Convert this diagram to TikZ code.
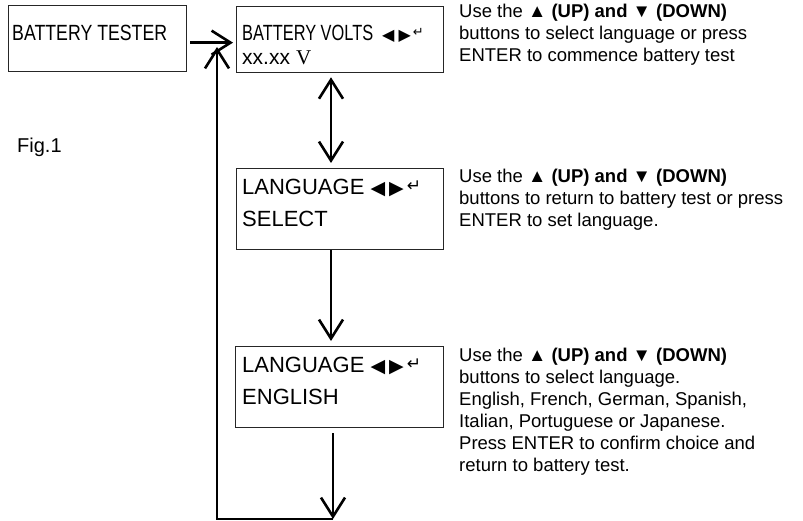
\documentclass[tikz,border=0pt]{standalone}
\usepackage{fontspec}
\usepackage{graphicx}
\setmainfont{Liberation Sans}
\newfontfamily\serifV{Liberation Serif}
\newfontfamily\symf{DejaVu Sans}
\usetikzlibrary{arrows.meta}
\tikzset{
  vtip/.tip={Straight Barb[length=19pt,width=24pt]},
  box/.style={draw=black!85, line width=1.3pt, inner sep=0pt, anchor=north west},
  boxtxt/.style={anchor=base west, inner sep=0pt, font=\fontsize{22}{24}\selectfont},
  desc/.style={anchor=base west, inner sep=0pt, align=left, font=\fontsize{18.5}{22}\selectfont},
  conn/.style={line width=2.6pt, line cap=butt},
}
\newcommand{\lrbig}{{\symf\fontsize{19}{19}\selectfont\char"25C0\hspace{4pt}\char"25B6\hspace{3pt}}{\symf\fontsize{17}{17}\selectfont\raisebox{3pt}{\char"21B5}}}
\newcommand{\lrsmall}{{\symf\fontsize{16}{16}\selectfont\char"25C0\hspace{4pt}\char"25B6\hspace{2pt}}{\symf\fontsize{13}{13}\selectfont\raisebox{4pt}{\char"21B5}}}
\begin{document}
\begin{tikzpicture}[x=1pt,y=-1pt]
\useasboundingbox (0,0) rectangle (803,521);
% boxes
\node[box, minimum width=178pt, minimum height=66pt] (b1) at (8,5) {};
\node[box, minimum width=207pt, minimum height=66pt] (b2) at (236,6) {};
\node[box, minimum width=207pt, minimum height=81pt] (b3) at (236,168) {};
\node[box, minimum width=208pt, minimum height=81pt] (b4) at (235,346) {};
% box texts
\node[boxtxt] (t1) at (12,41) {\resizebox{155pt}{\height}{BATTERY TESTER}};
\node[boxtxt] (t2a) at (242,41) {\resizebox{131pt}{\height}{BATTERY VOLTS}\hspace{9pt}\lrsmall};
\node[boxtxt] (t2b) at (242,65) {{\fontsize{21}{21}\selectfont xx.xx} {\serifV\fontsize{21}{21}\selectfont V}};
\node[boxtxt] (t3a) at (242,195) {LANGUAGE \lrbig};
\node[boxtxt] (t3b) at (242,227) {SELECT};
\node[boxtxt] (t4a) at (242,372) {LANGUAGE \lrbig};
\node[boxtxt] (t4b) at (242,404) {ENGLISH};
% fig label
\node[desc, font=\fontsize{20}{22}\selectfont] (fig) at (17,153) {Fig.1};
% descriptions (base anchor = baseline of last line)
\node[desc] (d1) at (459,62) {Use the \textbf{▲ (UP) and ▼ (DOWN)}\\buttons to select language or press\\ENTER to commence battery test};
\node[desc] (d2) at (459,227) {Use the \textbf{▲ (UP) and ▼ (DOWN)}\\buttons to return to battery test or press\\ENTER to set language.};
\node[desc] (d3) at (459,471) {Use the \textbf{▲ (UP) and ▼ (DOWN)}\\buttons to select language.\\English, French, German, Spanish,\\Italian, Portuguese or Japanese.\\Press ENTER to confirm choice and\\return to battery test.};
% connectors
\draw[conn, -vtip, shorten <=3pt, shorten >=3pt] ([yshift=-4pt]b1.east) -- ([yshift=-4pt]b1.east -| b2.west);
\draw[conn, vtip-vtip, shorten <=4pt, shorten >=5pt] ([xshift=95pt]b2.south west) -- ([xshift=95pt]b3.north west);
\draw[conn, -vtip, shorten >=5pt] ([xshift=95pt]b3.south west) -- ([xshift=95pt]b3.south west |- b4.north);
\coordinate (lc) at (333,519);
\coordinate (ll) at (217,519);
\coordinate (lt) at (217,47);
\draw[conn, -vtip, shorten <=5pt] ([xshift=98pt]b4.south west) -- (lc);
\draw[conn, -vtip] (lc) -- (ll) -- (lt);
\end{tikzpicture}
\end{document}
